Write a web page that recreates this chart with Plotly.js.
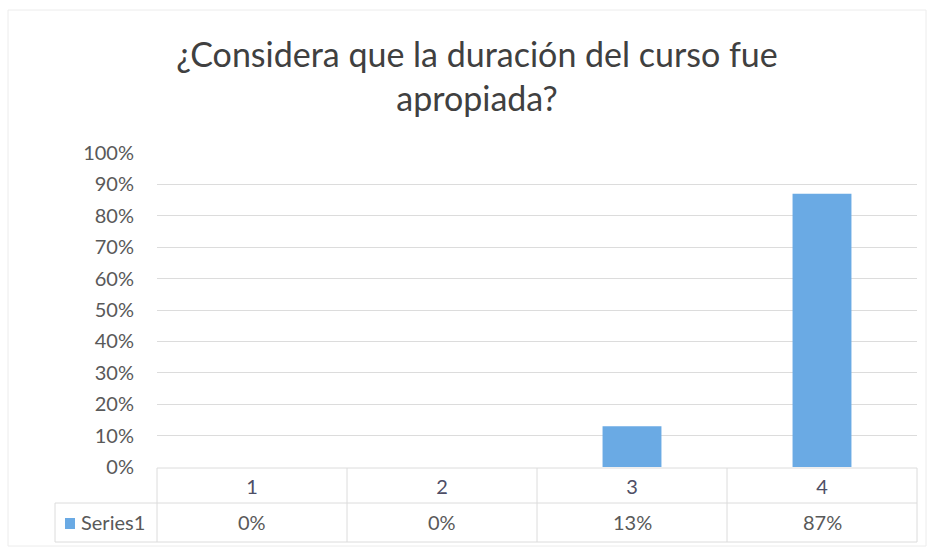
<!DOCTYPE html>
<html>
<head>
<meta charset="utf-8">
<script src="https://cdn.plot.ly/plotly-3.0.1.min.js"></script>
<style>html,body{margin:0;padding:0;background:#fff;}#chart{width:933px;height:550px;}</style>
</head>
<body>
<div id="chart"></div>
<script>
var categories = ['1', '2', '3', '4'];
var values = [0, 0, 13, 87];
var valueLabels = ['0%', '0%', '13%', '87%'];
var yTickVals = [0, 10, 20, 30, 40, 50, 60, 70, 80, 90, 100];
var yTickText = ['0%', '10%', '20%', '30%', '40%', '50%', '60%', '70%', '80%', '90%', '100%'];
var seriesName = 'Series1';
var titleText = '¿Considera que la duración del curso fue<br>apropiada?';

var W = 933, H = 550;
var L = 157, R = 917, T = 153, B = 467;
var pw = R - L, ph = B - T;
function px(x) { return (x - L) / pw; }
function py(y) { return (B - y) / ph; }

var barColor = '#6aaae4';
var lineColor = '#dcdcdc';
var font = 'Lato, Noto Sans, sans-serif';

var shapes = [];
function hline(x0, x1, y) {
  shapes.push({type: 'line', xref: 'paper', yref: 'paper', x0: px(x0), x1: px(x1), y0: py(y), y1: py(y), line: {color: lineColor, width: 1}});
}
function vline(x, y0, y1) {
  shapes.push({type: 'line', xref: 'paper', yref: 'paper', x0: px(x), x1: px(x), y0: py(y0), y1: py(y1), line: {color: lineColor, width: 1}});
}
// outer chart frame
shapes.push({type: 'rect', xref: 'paper', yref: 'paper', x0: px(8), x1: px(926), y0: py(10), y1: py(546), line: {color: '#ececec', width: 1}, fillcolor: 'rgba(0,0,0,0)', layer: 'below'});
// data table lines
hline(L, R, 468);
hline(55, R, 503);
hline(55, R, 542);
vline(55, 503, 542);
vline(L, 468, 542);
var colW = pw / categories.length;
for (var i = 1; i <= categories.length; i++) {
  vline(L + colW * i, 468, 542);
}
// legend key
shapes.push({type: 'rect', xref: 'paper', yref: 'paper', x0: px(65), x1: px(75), y0: py(529), y1: py(518), line: {width: 0}, fillcolor: barColor});

var annotations = [];
for (var j = 0; j < categories.length; j++) {
  annotations.push({x: j, xref: 'x', y: py(522), yref: 'paper', text: valueLabels[j], showarrow: false, xanchor: 'center', yanchor: 'middle', font: {family: font, size: 20, color: '#595959'}});
}
annotations.push({x: px(79), xref: 'paper', y: py(522), yref: 'paper', text: seriesName, showarrow: false, xanchor: 'left', yanchor: 'middle', font: {family: font, size: 20, color: '#595959'}});

var trace = {
  type: 'bar',
  x: categories,
  y: values,
  width: 0.31,
  marker: {color: barColor, line: {width: 0}},
  hoverinfo: 'none'
};

var layout = {
  width: W, height: H,
  margin: {l: L, r: W - R, t: T, b: H - B, pad: 0},
  paper_bgcolor: '#ffffff',
  plot_bgcolor: 'rgba(0,0,0,0)',
  showlegend: false,
  title: {
    text: titleText,
    x: px(477), xref: 'paper', xanchor: 'center',
    y: 1 - 67 / H, yref: 'container', yanchor: 'middle',
    font: {family: font, size: 34, color: '#404040'}
  },
  xaxis: {
    type: 'category',
    range: [-0.5, 3.5],
    showgrid: false,
    zeroline: false,
    showline: false,
    ticks: '',
    ticklabelstandoff: 6,
    tickfont: {family: font, size: 20, color: '#4e4e66'},
    fixedrange: true
  },
  yaxis: {
    range: [0, 100],
    tickvals: yTickVals,
    ticktext: yTickText,
    showgrid: true,
    gridcolor: lineColor,
    gridwidth: 1,
    zeroline: false,
    showline: false,
    ticks: '',
    ticklabelstandoff: 22,
    tickfont: {family: font, size: 20, color: '#595959'},
    fixedrange: true
  },
  shapes: shapes,
  annotations: annotations
};

Plotly.newPlot('chart', [trace], layout, {displayModeBar: false, staticPlot: true});
</script>
</body>
</html>
